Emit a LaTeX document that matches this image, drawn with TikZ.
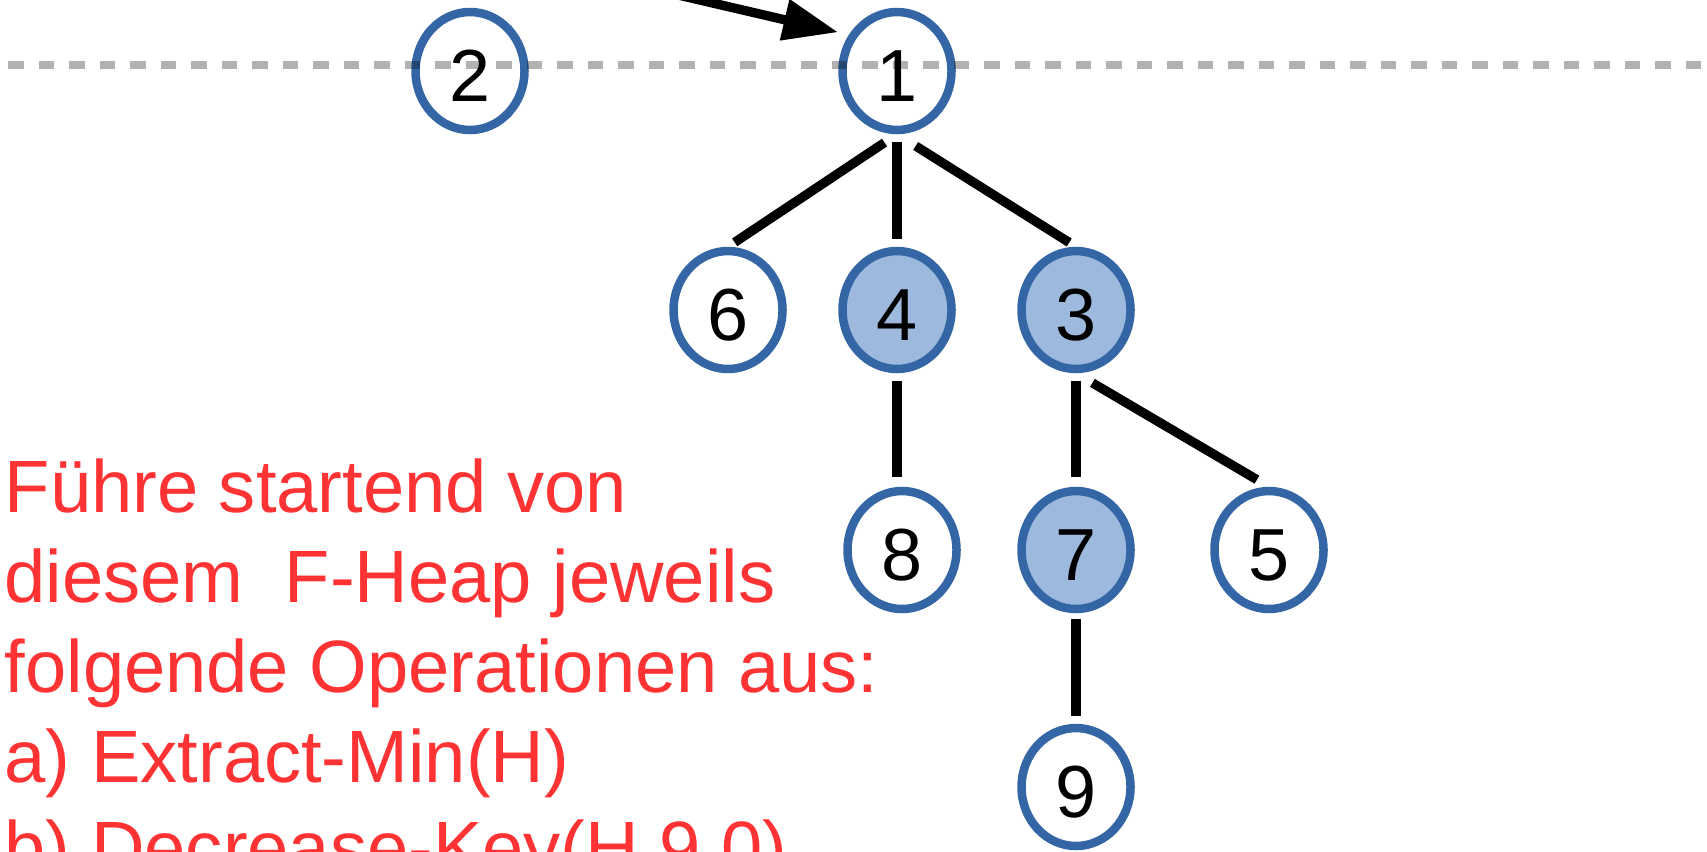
\documentclass[tikz,border=0pt]{standalone}
\usepackage{fontspec}
\setmainfont{Liberation Sans}
\usetikzlibrary{positioning,arrows.meta,shapes.geometric}
\definecolor{heapblue}{RGB}{52,101,164}
\definecolor{markfill}{RGB}{157,185,221}
\definecolor{hintred}{RGB}{255,51,51}

\begin{document}
\begin{tikzpicture}[>={Triangle[length=0.55cm,width=0.4cm]}, x=1cm, y=1cm,
    hn/.style={ellipse,draw=heapblue,line width=0.085cm,fill=white,inner sep=0pt,
               minimum width=1.09cm,minimum height=1.18cm,
               font=\fontsize{21pt}{25pt}\selectfont,text height=0.6cm,text depth=0pt},
    hm/.style={hn,fill=markfill},
    ln/.style={line width=0.093cm},
    txt/.style={anchor=base west,inner sep=0pt,text=hintred,
                font=\fontsize{21.1pt}{25pt}\selectfont}]
    \useasboundingbox (0,0) rectangle (17.07,-8.51);
    \clip (0,0) rectangle (17.07,-8.51);
    % root list
    \node[hn] (n2) at (4.70,-0.71) {2};
    \node[hn] (n1) at (8.97,-0.71) {1};
    % children of 1
    \node[hn] (n6) at (7.28,-3.10)  {6};
    \node[hm] (n4) at (8.97,-3.10)  {4};
    \node[hm] (n3) at (10.76,-3.10) {3};
    \node[hn] (n8) at (9.02,-5.50)  {8};
    \node[hm] (n7) at (10.76,-5.50) {7};
    \node[hn] (n5) at (12.69,-5.50) {5};
    \node[hn] (n9) at (10.76,-7.87) {9};
    % tree edges
    \draw[ln,shorten <=0.15cm,shorten >=0.08cm] (n1.south) -- (n6.north);
    \draw[ln,shorten <=0.08cm,shorten >=0.08cm] (n1.south) -- (n4.north);
    \draw[ln,shorten <=0.22cm,shorten >=0.08cm] (n1.south) -- (n3.north);
    \draw[ln,shorten <=0.08cm,shorten >=0.10cm] (n4.south) -- (n4.south |- n8.north);
    \draw[ln,shorten <=0.08cm,shorten >=0.10cm] (n3.south) -- (n7.north);
    \draw[ln,shorten <=0.19cm,shorten >=0.14cm] (n3.south) -- (n5.north);
    \draw[ln,shorten <=0.06cm,shorten >=0.08cm] (n7.south) -- (n9.north);
    % min pointer
    \coordinate (minptr) at (6.0,0.232);
    \draw[->,ln,shorten >=0.11cm] (minptr) -- (n1.143);
    % root list line
    \draw[black,draw opacity=0.3,line width=0.077cm,dash pattern=on 0.157cm off 0.148cm]
        (0.083,-0.65) -- (17.07,-0.65);
    % task text
    \node[txt] (t1) at (0.04,-5.12) {Führe startend von};
    \node[txt] (t2) at (0.04,-6.02) {diesem \ F-Heap jeweils};
    \node[txt] (t3) at (0.04,-6.925) {folgende Operationen aus:};
    \node[txt] (t4) at (0.04,-7.825) {a) Extract-Min(H)};
    \node[txt] (t5) at (0.04,-8.73) {b) Decrease-Key(H,9,0)};
\end{tikzpicture}
\end{document}
